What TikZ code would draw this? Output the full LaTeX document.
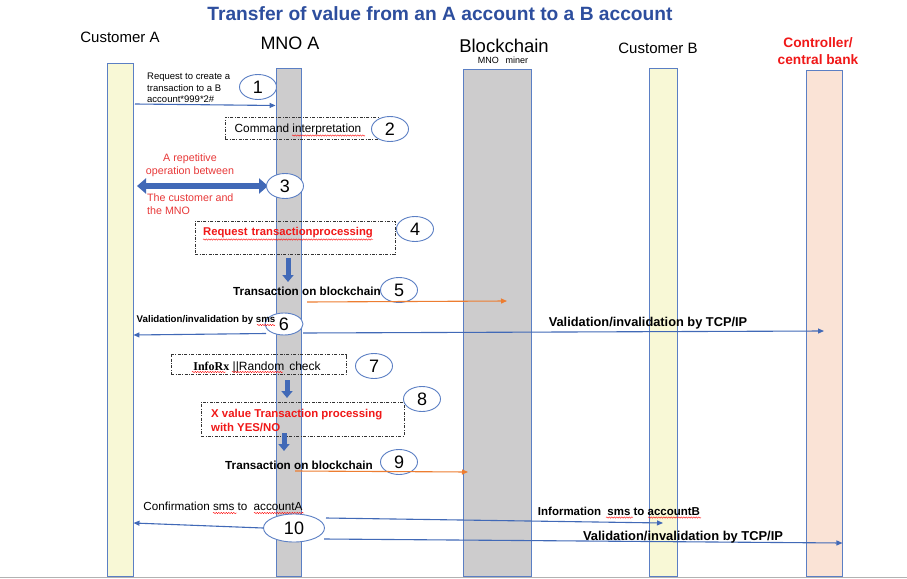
\documentclass[tikz,border=0pt]{standalone}
\usepackage{fontspec}
\setmainfont{Liberation Sans}
\newfontfamily\serifrx{Liberation Serif}
\usetikzlibrary{shapes.geometric,arrows.meta,decorations.pathmorphing}
\definecolor{lblue}{HTML}{5B7FC4}
\definecolor{ablue}{HTML}{4169B7}
\definecolor{titleblue}{HTML}{2D4E9E}
\definecolor{oran}{HTML}{ED7D31}
\definecolor{yelfill}{HTML}{F8F8D6}
\definecolor{grayfill}{HTML}{CDCCCD}
\definecolor{peach}{HTML}{FAE3D6}
\definecolor{redtxt}{HTML}{F01818}
\definecolor{pinkred}{HTML}{E83838}
\newcommand{\fs}[1]{\fontsize{#1}{#1}\selectfont}
\tikzset{
  lifeline/.style={draw=lblue, line width=0.9pt, inner sep=0pt},
  numell/.style={ellipse, draw=lblue, line width=0.9pt, fill=white, inner sep=0pt, minimum width=37pt, minimum height=25pt, font=\fs{18}},
  dbox/.style={draw=black!80, line width=0.6pt, dash pattern=on 3pt off 1.5pt on 0.8pt off 1.5pt, inner sep=0pt},
  msg/.style={draw=ablue, line width=1.1pt, -{Triangle[length=6pt,width=5pt]}},
  omsg/.style={draw=oran, line width=1.1pt, -{Triangle[length=6pt,width=5pt]}},
  downarr/.style={draw=ablue, line width=5pt, -{Triangle[length=7pt,width=11pt]}},
  txt/.style={inner sep=0pt, text=black},
  wavy/.style={draw=red, line width=0.4pt, decorate, decoration={snake, amplitude=0.7pt, segment length=2.5pt}},
}
\begin{document}
\begin{tikzpicture}[x=1pt,y=-1pt]
\useasboundingbox (0,0) rectangle (907,578);
\fill[white] (0,0) rectangle (907,578);
\draw[gray!60, line width=1pt] (0,577.5) -- (907,577.5);

% title
\node[txt, text=titleblue, font=\bfseries\fs{19.2}] (title) at (440,14) {Transfer of value from an A account to a B account};

% headers
\node[txt, font=\fs{15}] (hA) at (120,37) {Customer A};
\node[txt, font=\fs{18}] (hM) at (290,43) {MNO A};
\node[txt, font=\fs{18.5}] (hBc) at (504,46) {Blockchain};
\node[txt, font=\fs{9}] (hBm) at (503,60) {MNO\hspace{7pt}miner};
\node[txt, font=\fs{15}] (hB) at (658,48) {Customer B};
\node[txt, text=redtxt, font=\bfseries\fs{13.7}, align=center] (hC) at (818,51) {Controller/\\[3pt]central bank};

% lifelines
\node[lifeline, fill=yelfill, minimum width=26pt, minimum height=513pt] (ca) at (120,319.5) {};
\node[lifeline, fill=grayfill, minimum width=25pt, minimum height=508pt] (mno) at (288.5,322) {};
\node[lifeline, fill=grayfill, minimum width=68pt, minimum height=507pt] (bc) at (497,322.5) {};
\node[lifeline, fill=yelfill, minimum width=28pt, minimum height=508pt] (cb) at (663,322) {};
\node[lifeline, fill=peach, minimum width=36pt, minimum height=506pt] (ctl) at (824,323) {};

% step 1
\node[txt, font=\fontsize{9.5}{11.8}\selectfont, align=left, anchor=north west] (t1) at (147,72.5) {Request to create a\\transaction to a B\\account*999*2\#};
\coordinate (s1) at (135,104);
\draw[msg] (s1) -- (mno.west |- 0,105.5);
\node[numell] (e1) at (258,87) {1};

% step 2
\node[dbox, minimum width=153pt, minimum height=22pt] (b2) at (301.5,128) {};
\node[txt, font=\fs{11.8}] (t2) at (298,129) {Command interpretation};
\draw[wavy] (292,135.5) -- (365,135.5);
\node[numell] (e2) at (390,129) {2};

% step 3
\coordinate (s3) at (137,186);
\coordinate (s3e) at (268,186);
\draw[draw=ablue, line width=6pt, {Triangle[length=9pt,width=15pt]}-{Triangle[length=9pt,width=15pt]}] (s3) -- (s3e);
\node[numell] (e3) at (285,186) {3};
\node[txt, text=pinkred, font=\fs{10.7}, align=center] (t3a) at (190,165) {A repetitive\\[2pt]operation between};
\node[txt, text=pinkred, font=\fs{10.7}, align=left, anchor=west] (t3b) at (147,204) {The customer and\\[2pt]the MNO};

% step 4
\node[dbox, minimum width=200pt, minimum height=33pt] (b4) at (295,237.5) {};
\node[txt, text=redtxt, font=\bfseries\fs{11.3}] (t4) at (288,233) {Request\hspace{4pt}transactionprocessing};
\draw[wavy] (203,239.5) -- (373,239.5);
\node[numell] (e4) at (415,229) {4};
\coordinate (d4a) at (288,258);
\coordinate (d4b) at (288,282);
\draw[downarr] (d4a) -- (d4b);

% step 5
\node[txt, font=\bfseries\fs{11.7}] (t5) at (307,291) {Transaction on blockchain};
\node[numell] (e5) at (399,290) {5};
\coordinate (o5) at (307,302);
\coordinate (o5e) at (507,301);
\draw[omsg] (o5) -- (o5e);

% step 6
\node[numell, minimum width=38pt, minimum height=22pt] (e6) at (284,324) {};
\coordinate (v6l) at (266,333.5);
\draw[msg] (v6l) -- (ca.east |- 0,335);
\coordinate (v6r) at (303,333);
\draw[msg] (v6r) -- (ctl.center |- 0,331);
\node[txt, font=\bfseries\fs{9.7}] (t6) at (206,320) {Validation/invalidation by sms};
\draw[wavy] (257,325) -- (275,325);
\node[txt, font=\fs{18}] (n6) at (284,324) {6};
\node[txt, font=\bfseries\fs{12.8}] (t6b) at (648,323) {Validation/invalidation by TCP/IP};

% step 7
\node[dbox, minimum width=175pt, minimum height=20pt] (b7) at (258.5,364.5) {};
\node[txt, font=\fs{12}] (t7) at (257,367) {{\serifrx\bfseries InfoRx} ||Random\hspace{5pt}check};
\draw[wavy] (192,372) -- (226,372);
\draw[wavy] (232,372) -- (283,372);
\node[numell] (e7) at (374,366) {7};
\coordinate (d7a) at (287,380);
\coordinate (d7b) at (287,398);
\draw[downarr] (d7a) -- (d7b);

% step 8
\node[dbox, minimum width=203pt, minimum height=34pt] (b8) at (302.5,419) {};
\node[txt, text=redtxt, font=\bfseries\fs{11.4}, align=left, anchor=west] (t8) at (211,420.5) {X value Transaction processing\\[2pt]with YES/NO};
\node[numell] (e8) at (422,399) {8};
\coordinate (d8a) at (284,433);
\coordinate (d8b) at (284,451);
\draw[downarr] (d8a) -- (d8b);

% step 9
\node[txt, font=\bfseries\fs{11.7}] (t9) at (299,465) {Transaction on blockchain};
\node[numell] (e9) at (399,462) {9};
\coordinate (o9) at (295,471);
\coordinate (o9e) at (468,472);
\draw[omsg] (o9) -- (o9e);

% step 10
\node[txt, font=\fs{11.7}] (t10) at (223,506) {Confirmation sms to\hspace{3pt} accountA};
\draw[wavy] (213,513) -- (237,513);
\draw[wavy] (254,513) -- (304,513);
\node[numell, minimum width=61pt, minimum height=28pt] (e10) at (294,528) {10};
\draw[msg] (e10.west) -- (ca.east |- 0,523);
\coordinate (i10) at (326,518);
\draw[msg] (i10) -- (cb.center |- 0,523);
\node[txt, font=\bfseries\fs{11.5}] (t10b) at (619,511) {Information\hspace{3pt} sms to accountB};
\draw[wavy] (606,517.5) -- (633,517.5);
\draw[wavy] (648,517.5) -- (701,517.5);
\coordinate (v10) at (324,539);
\draw[msg] (v10) -- (ctl.east |- 0,543);
\node[txt, font=\bfseries\fs{12.9}] (t10c) at (683,537) {Validation/invalidation by TCP/IP};
\end{tikzpicture}
\end{document}
